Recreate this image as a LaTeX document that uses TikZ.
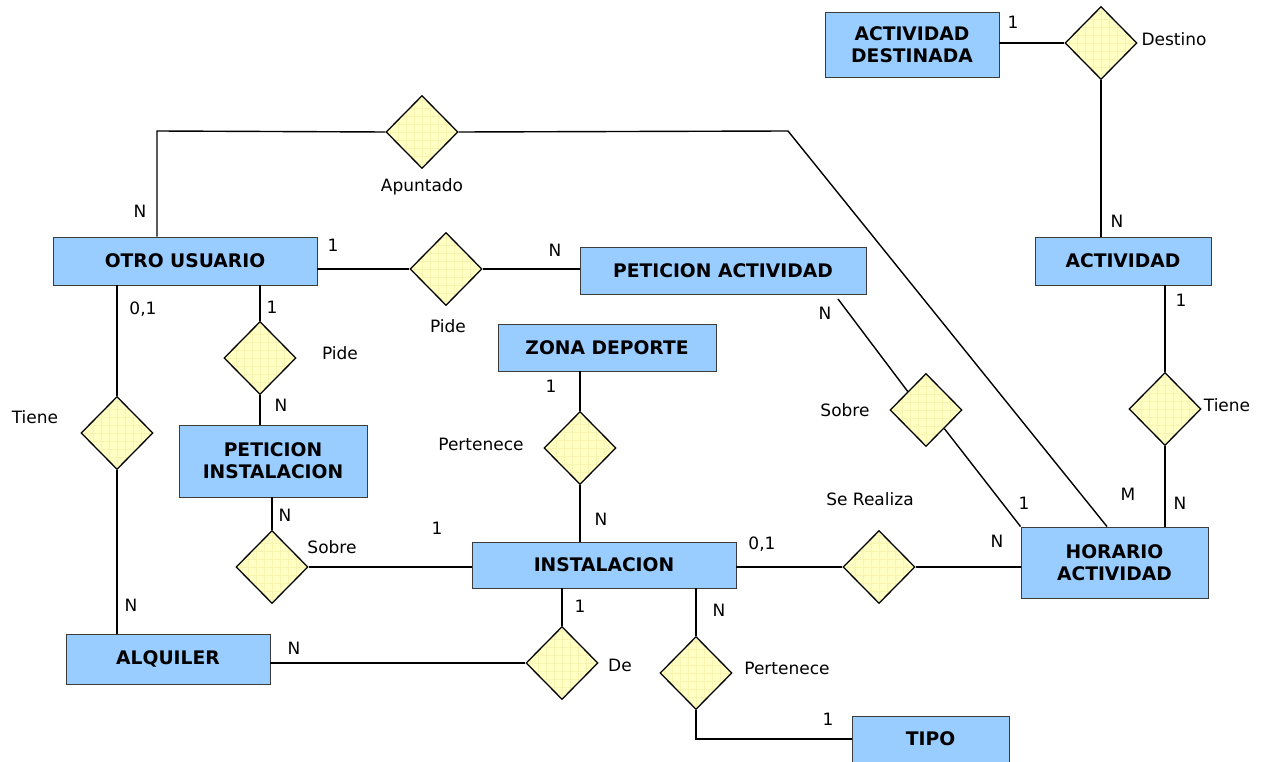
\documentclass[tikz,border=0pt]{standalone}
\usepackage{fontspec}
\setmainfont{DejaVu Sans}
\usetikzlibrary{shapes.geometric,calc}

\definecolor{entfill}{RGB}{153,204,255}
\definecolor{entline}{RGB}{60,60,60}
\definecolor{relfill}{RGB}{255,255,196}
\definecolor{relgrid}{RGB}{248,244,176}

\tikzset{
  entity/.style={draw=entline, line width=0.9pt, fill=entfill, rectangle,
    inner sep=0pt, align=center, font=\fontsize{18.7}{22}\selectfont\bfseries},
  relation/.style={draw=black, line width=1.3pt, fill=relfill, diamond,
    inner sep=0pt, minimum width=72pt, minimum height=73pt,
    path picture={\draw[relgrid, line width=0.5pt, step=8pt]
      (path picture bounding box.south west) grid (path picture bounding box.north east);}},
  link/.style={line width=1.4pt, draw=black},
  lbl/.style={inner sep=0pt, font=\fontsize{17}{20}\selectfont},
}

\begin{document}
\begin{tikzpicture}[x=1pt, y=-1pt]
\useasboundingbox (0,0) rectangle (1264,762);

% entities
\node[entity, minimum width=174pt, minimum height=65pt] (actdest) at (912,44.5) {ACTIVIDAD\\DESTINADA};
\node[entity, minimum width=176pt, minimum height=48pt] (actividad) at (1123,261) {ACTIVIDAD};
\node[entity, minimum width=187pt, minimum height=71pt] (horario) at (1114.5,562.5) {HORARIO\\ACTIVIDAD};
\node[entity, minimum width=264pt, minimum height=48pt] (otro) at (185,261) {OTRO USUARIO};
\node[entity, minimum width=286pt, minimum height=47pt] (petact) at (723,270.5) {PETICION ACTIVIDAD};
\node[entity, minimum width=218pt, minimum height=47pt] (zona) at (607,347.5) {ZONA DEPORTE};
\node[entity, minimum width=188pt, minimum height=72pt] (petinst) at (273,461) {PETICION\\INSTALACION};
\node[entity, minimum width=264pt, minimum height=46pt] (instal) at (604,565) {INSTALACION};
\node[entity, minimum width=204pt, minimum height=50pt] (alquiler) at (168,659) {ALQUILER};
\node[entity, minimum width=157pt, minimum height=46pt] (tipo) at (930.5,739) {TIPO};

% relationships
\node[relation] (destino) at (1101,43) {};
\node[relation] (tieneR) at (1165,409) {};
\node[relation] (apuntado) at (422,132) {};
\node[relation] (pideA) at (446,269) {};
\node[relation] (sobreR) at (926,410) {};
\node[relation] (pideB) at (260,358) {};
\node[relation] (sobreL) at (272,567) {};
\node[relation] (tieneL) at (117,433) {};
\node[relation] (de) at (562,663) {};
\node[relation] (pertB) at (696,673) {};
\node[relation] (pertA) at (580,448) {};
\node[relation] (serealiza) at (879,567) {};

% free ends of the bent connectors
\coordinate (apL) at (157,131);
\coordinate (apR) at (788,131);
\coordinate (mX) at (1107,0);
\coordinate (sobreTop) at (838,299);

% connectors
\draw[link] (actdest.east |- destino) -- (destino.west);
\draw[link] (destino.south) -- (actividad.north -| destino);
\draw[link] (actividad.south -| tieneR) -- (tieneR.north);
\draw[link] (tieneR.south) -- (horario.north -| tieneR);
\draw[link] (apuntado.west) -- (apL) -- (apL |- otro.north);
\draw[link] (apuntado.east) -- (apR) -- (horario.north -| mX);
\draw[link] (otro.east |- pideA) -- (pideA.west);
\draw[link] (pideA.east) -- (petact.west |- pideA);
\draw[link] (sobreTop) -- (sobreR.north west);
\draw[link] (sobreR.south east) -- (horario.north west);
\draw[link] (otro.south -| pideB) -- (pideB.north);
\draw[link] (pideB.south) -- (petinst.north -| pideB);
\draw[link] (petinst.south -| sobreL) -- (sobreL.north);
\draw[link] (sobreL.east) -- (instal.west |- sobreL);
\draw[link] (otro.south -| tieneL) -- (tieneL.north);
\draw[link] (tieneL.south) -- (alquiler.north -| tieneL);
\draw[link] (alquiler.east |- de) -- (de.west);
\draw[link] (instal.south -| de) -- (de.north);
\draw[link] (instal.south -| pertB) -- (pertB.north);
\draw[link] (pertB.south) |- (tipo.west);
\draw[link] (zona.south -| pertA) -- (pertA.north);
\draw[link] (pertA.south) -- (instal.north -| pertA);
\draw[link] (instal.east |- serealiza) -- (serealiza.west);
\draw[link] (serealiza.east) -- (horario.west |- serealiza);

% relationship names
\node[lbl] (tDestino) at (1174,39) {Destino};
\node[lbl] (tTieneR) at (1227,405) {Tiene};
\node[lbl] (tApuntado) at (422,187) {Apuntado};
\node[lbl] (tPideA) at (448,326) {Pide};
\node[lbl] (tSobreR) at (845,410) {Sobre};
\node[lbl] (tPideB) at (340,353) {Pide};
\node[lbl] (tTieneL) at (35,417) {Tiene};
\node[lbl] (tSobreL) at (332,547) {Sobre};
\node[lbl] (tPertA) at (481,444) {Pertenece};
\node[lbl] (tDe) at (620,665) {De};
\node[lbl] (tPertB) at (787,668) {Pertenece};
\node[lbl] (tSeRealiza) at (870,499) {Se Realiza};

% cardinalities
\node[lbl] (c1) at (1013,22) {1};
\node[lbl] (c2) at (1117,221) {N};
\node[lbl] (c3) at (1181,300) {1};
\node[lbl] (c4) at (1180,503) {N};
\node[lbl] (c5) at (1128,494) {M};
\node[lbl] (c6) at (1024,503) {1};
\node[lbl] (c7) at (997,541) {N};
\node[lbl] (c8) at (762,544) {0,1};
\node[lbl] (c9) at (825,313) {N};
\node[lbl] (c10) at (555,250) {N};
\node[lbl] (c11) at (333,245) {1};
\node[lbl] (c12) at (140,211) {N};
\node[lbl] (c13) at (143,309) {0,1};
\node[lbl] (c14) at (272,307) {1};
\node[lbl] (c15) at (281,405) {N};
\node[lbl] (c16) at (285,515) {N};
\node[lbl] (c17) at (437,528) {1};
\node[lbl] (c18) at (551,386) {1};
\node[lbl] (c19) at (601,519) {N};
\node[lbl] (c20) at (580,606) {1};
\node[lbl] (c21) at (719,610) {N};
\node[lbl] (c22) at (828,719) {1};
\node[lbl] (c23) at (294,648) {N};
\node[lbl] (c24) at (131,605) {N};
\end{tikzpicture}
\end{document}
